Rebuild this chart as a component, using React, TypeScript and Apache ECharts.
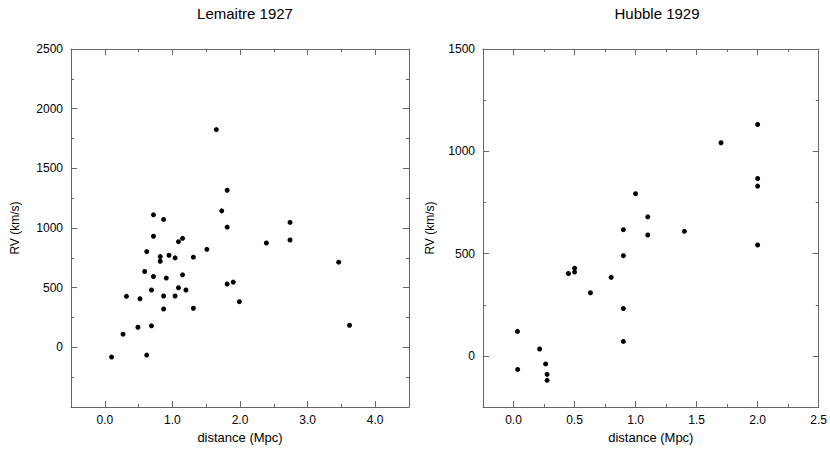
import React, { useEffect, useRef } from "react";
import * as echarts from "echarts";

const lemaitreTitle = "Lemaitre 1927";
const hubbleTitle = "Hubble 1929";
const xName = "distance (Mpc)";
const yName = "RV (km/s)";

const lemaitreDist = [
  1.65, 1.81, 1.73, 1.81, 0.72, 0.87, 2.74, 2.74, 2.39, 0.72, 1.09, 1.15, 1.51, 0.62,
  0.82, 0.82, 0.95, 1.04, 1.31, 3.46, 0.59, 0.72, 0.91, 1.15, 0.69, 1.09, 1.2, 1.81,
  1.9, 0.32, 0.52, 0.87, 1.04, 1.99, 0.87, 1.31, 0.49, 0.69, 3.62, 0.27, 0.1, 0.62,
];
const lemaitreRV = [
  1825, 1317, 1144, 1008, 1111, 1072, 1047, 900, 875, 931, 886, 914, 822, 803,
  761, 722, 772, 750, 756, 714, 636, 594, 581, 608, 481, 500, 481, 531,
  547, 428, 408, 431, 431, 383, 322, 328, 169, 181, 186, 111, -81, -64,
];

const hubbleDist = [
  2.0, 1.7, 2.0, 2.0, 1.0, 1.1, 0.9, 1.4, 1.1, 2.0, 0.9, 0.5, 0.5, 0.45, 0.8, 0.63,
  0.9, 0.9, 0.032, 0.214, 0.034, 0.263, 0.275, 0.275,
];
const hubbleRV = [
  1131, 1042, 867, 830, 793, 680, 617, 609, 591, 542, 490, 429, 410, 403, 384, 309,
  232, 71, 120, 34, -66, -39, -90, -119,
];

const lemaitreXMajor = [0, 1, 2, 3, 4];
const lemaitreXMinor = [0.5, 1.5, 2.5, 3.5];
const lemaitreYMajor = [0, 500, 1000, 1500, 2000, 2500];
const lemaitreYMinor = [-250, 250, 750, 1250, 1750, 2250];
const hubbleXMajor = [0, 0.5, 1, 1.5, 2, 2.5];
const hubbleXMinor = [0.25, 0.75, 1.25, 1.75, 2.25];
const hubbleYMajor = [0, 500, 1000, 1500];
const hubbleYMinor = [-250, 250, 750, 1250];

const FONT = "Liberation Sans, Arial, Helvetica, sans-serif";
const FRAME = "#666";

function makeAxes(
  dim: "x" | "y",
  gridIndex: number,
  min: number,
  max: number,
  major: number[],
  minor: number[],
  fmt: (v: number) => string,
  name: string,
  nameGap: number
) {
  const pos1 = dim === "x" ? "bottom" : "left";
  const pos2 = dim === "x" ? "top" : "right";
  const base = {
    type: "value",
    gridIndex,
    min,
    max,
    splitLine: { show: false },
  };
  const line = { show: true, onZero: false, lineStyle: { color: FRAME, width: 1 } };
  const noLine = { show: false, onZero: false };
  const axes: any[] = [
    {
      ...base,
      position: pos1,
      axisLine: line,
      axisTick: { show: true, inside: true, length: 6, customValues: major, lineStyle: { color: FRAME } },
      axisLabel: {
        show: true,
        customValues: major,
        formatter: (v: number) => fmt(v),
        color: "#000",
        fontFamily: FONT,
        fontSize: 12,
        margin: dim === "x" ? 7 : 8,
      },
      name,
      nameLocation: "middle",
      nameGap,
      nameTextStyle: { color: "#000", fontFamily: FONT, fontSize: dim === "x" ? 13 : 12 },
    },
    {
      ...base,
      position: pos1,
      axisLine: noLine,
      axisTick: { show: true, inside: true, length: 3, customValues: minor, lineStyle: { color: FRAME } },
      axisLabel: { show: false },
    },
    {
      ...base,
      position: pos2,
      axisLine: line,
      axisTick: { show: true, inside: true, length: 6, customValues: major, lineStyle: { color: FRAME } },
      axisLabel: { show: false },
    },
    {
      ...base,
      position: pos2,
      axisLine: noLine,
      axisTick: { show: true, inside: true, length: 3, customValues: minor, lineStyle: { color: FRAME } },
      axisLabel: { show: false },
    },
  ];
  return axes;
}

export default function App() {
  const ref = useRef<HTMLDivElement>(null);
  useEffect(() => {
    if (!ref.current) return;
    const chart = echarts.init(ref.current, undefined, { renderer: "svg" });
    const xAxes = [
      ...makeAxes("x", 0, -0.5, 4.5, lemaitreXMajor, lemaitreXMinor, (v) => v.toFixed(1), xName, 23),
      ...makeAxes("x", 1, -0.25, 2.5, hubbleXMajor, hubbleXMinor, (v) => v.toFixed(1), xName, 23),
    ];
    const yAxes = [
      ...makeAxes("y", 0, -500, 2500, lemaitreYMajor, lemaitreYMinor, (v) => String(v), yName, 50),
      ...makeAxes("y", 1, -250, 1500, hubbleYMajor, hubbleYMinor, (v) => String(v), yName, 47),
    ];
    const titleStyle = { fontFamily: FONT, fontSize: 15, fontWeight: "normal", color: "#000" };
    chart.setOption({
      animation: false,
      backgroundColor: "#fff",
      title: [
        { text: lemaitreTitle, left: 240, top: 1, textAlign: "center", textStyle: titleStyle },
        { text: hubbleTitle, left: 652, top: 1, textAlign: "center", textStyle: titleStyle },
      ],
      grid: [
        { left: 71, top: 49, width: 338, height: 360 },
        { left: 483, top: 49, width: 339, height: 360 },
      ],
      xAxis: xAxes,
      yAxis: yAxes,
      series: [
        {
          type: "scatter",
          xAxisIndex: 0,
          yAxisIndex: 0,
          symbolSize: 5,
          itemStyle: { color: "#000", opacity: 1 },
          data: lemaitreDist.map((d, i) => [d, lemaitreRV[i]]),
        },
        {
          type: "scatter",
          xAxisIndex: 4,
          yAxisIndex: 4,
          symbolSize: 5,
          itemStyle: { color: "#000", opacity: 1 },
          data: hubbleDist.map((d, i) => [d, hubbleRV[i]]),
        },
      ],
    });
    return () => chart.dispose();
  }, []);
  return (
    <div
      ref={ref}
      style={{ position: "fixed", left: 0, top: 0, width: 830, height: 449, background: "#fff" }}
    />
  );
}
